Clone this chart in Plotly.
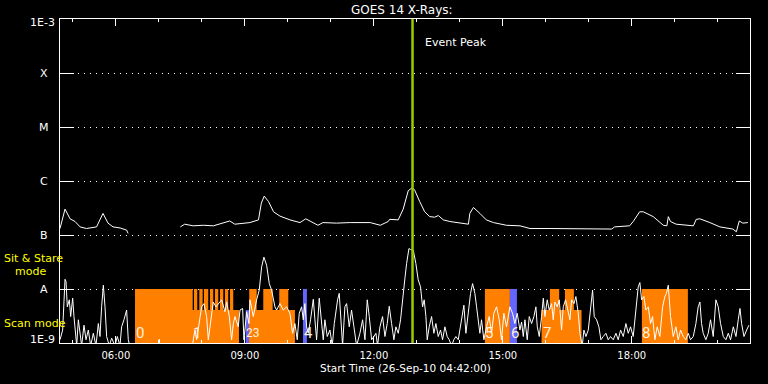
import numpy as np
import pandas as pd
import plotly.graph_objects as go

START = pd.Timestamp("2010-09-26 04:42:00")
END_MIN = 963  # minutes after start shown on the axis

# ---- GOES long channel (upper white curve): minutes after start, log10 flux (W/m^2)
long_min = [0, 7, 14, 21, 28, 37, 51, 60, 67, 74, 84, 93, 95, 130,
            168, 174, 186, 200, 214, 228, 237, 244, 260, 265, 277, 281, 285, 291, 298, 307,
            321, 335, 343, 349, 360, 367, 386, 405, 423, 433, 447, 458, 460, 472, 479, 486,
            492, 495, 502, 509, 516, 523, 528, 535, 544, 558, 570, 572, 577, 586, 595, 605,
            623, 642, 656, 684, 716, 735, 753, 770, 774, 795, 800, 809, 814, 828, 842, 847,
            849, 852, 860, 874, 884, 888, 893, 907, 921, 939, 944, 948, 953, 960]
long_logf = [-6.88, -6.52, -6.70, -6.75, -6.85, -6.88, -6.85, -6.60, -6.78, -6.85, -6.87, -6.91, -6.97, None,
             -6.85, -6.80, -6.83, -6.82, -6.83, -6.78, -6.74, -6.80, -6.78, -6.77, -6.72, -6.41, -6.28, -6.38, -6.57, -6.65,
             -6.72, -6.77, -6.70, -6.74, -6.82, -6.77, -6.78, -6.77, -6.77, -6.77, -6.82, -6.75, -6.71, -6.72, -6.52, -6.18,
             -6.12, -6.17, -6.38, -6.57, -6.66, -6.67, -6.64, -6.72, -6.75, -6.78, -6.80, -6.60, -6.49, -6.60, -6.72, -6.77,
             -6.82, -6.83, -6.88, -6.88, -6.88, -6.89, -6.88, -6.89, -6.85, -6.83, -6.75, -6.57, -6.57, -6.66, -6.82, -6.83,
             -6.66, -6.75, -6.80, -6.82, -6.83, -6.71, -6.70, -6.77, -6.85, -6.89, -6.94, -6.74, -6.78, -6.77]

# ---- lower white curve: minutes after start, log10 flux
short_min = [0, 3.7, 7.0, 8.4, 10.2, 13.0, 14.9, 17.7, 19.5, 20.9, 23.3, 25.6, 27.9, 30.2, 33.5, 36.3, 39.5,
             42.8, 46.5, 50.2, 53.5, 55.8, 58.1, 60.5, 62.8, 65.1, 68.8, 72.1, 76.7, 80.0, 83.7, 86.0, 89.3,
             93.0, 95.3, 100, 137.2, 138.6, 140, 183.7, 186, 188.4, 190.7, 195.3, 197.7, 200.9, 204.6, 207.0,
             211.6, 213.9, 217.7, 220.9, 225.6, 230.2, 232.6, 236.3, 239.5, 241.9, 244.2, 248.8, 251.2, 254.9,
             256.7, 260.5, 263.7, 265.1, 269.8, 274.4, 278.1, 281.4, 284.6, 288.4, 292.1, 295.3, 300.0, 302.3,
             307.0, 311.6, 316.3, 320.9, 324.6, 327.9, 331.1, 333.9, 337.2, 339.5, 341.8, 344.2, 346.5, 349.7,
             353.5, 355.8, 358.1, 361.8, 365.1, 367.4, 369.7, 373.0, 376.7, 380.0, 382.8, 385.1, 387.4, 389.7,
             391.6, 394.4, 397.6, 400.0, 403.7, 406.9, 410.2, 413.9, 418.6, 422.3, 425.6, 428.8, 431.6, 434.9,
             438.1, 440.9, 443.2, 446.5, 450.2, 453.5, 456.7, 459.5, 462.8, 466.0, 468.8, 472.1, 475.3, 479.0,
             481.4, 483.7, 487.0, 489.3, 493.0, 496.7, 499.9, 503.2, 506.0, 508.3, 510.7, 512.5, 515.3, 518.6,
             521.8, 524.6, 527.9, 531.1, 533.9, 537.2, 540.4, 543.2, 546.5, 549.7, 552.5, 555.8, 559.0, 561.8,
             563.7, 566.5, 569.7, 573.0, 575.8, 579.0, 581.4, 583.7, 586.0, 588.3, 591.6, 595.3, 599.0, 602.3,
             605.5, 609.3, 613.0, 616.2, 619.5, 623.2, 627.9, 631.6, 634.8, 638.1, 641.9, 644.2, 646.6, 648.9,
             652.1, 654.9, 658.2, 661.4, 664.2, 666.1, 668.9, 672.1, 674.5, 676.8, 680.0, 682.8, 686.1, 688.4,
             690.7, 694.0, 696.8, 700.0, 702.4, 705.6, 708.4, 711.7, 714.0, 717.4, 720.0, 723.3, 725.6, 728.9,
             731.2, 734.0, 737.3, 740.5, 743.3, 745.6, 748.9, 752.1, 754.9, 758.2, 761.9, 765.1, 768.4, 772.1,
             775.9, 779.1, 782.4, 786.1, 789.8, 793.1, 796.3, 800.0, 803.8, 807.0, 809.3, 811.7, 814.9, 817.7,
             821.0, 824.2, 827.0, 830.3, 833.5, 837.2, 841.0, 844.2, 846.5, 848.9, 852.1, 855.9, 859.6, 862.8,
             866.1, 869.8, 873.5, 876.8, 880.0, 883.8, 887.5, 890.7, 893.1, 895.4, 897.7, 901.4, 904.7, 907.9,
             911.7, 915.4, 918.7, 921.9, 925.7, 929.4, 932.7, 935.9, 939.7, 943.4, 946.6, 949.0, 951.3, 954.6,
             958.3, 961.5]
short_logf = [-8.94, -8.76, -7.82, -7.86, -8.33, -8.20, -8.51, -8.17, -8.51, -8.70, -9.05, -8.57, -8.88, -9.05, -8.67, -8.94, -8.76,
              -9.05, -8.82, -9.05, -8.64, -8.88, -8.33, -7.93, -8.33, -8.88, -9.05, -8.91, -9.05, -8.88, -9.05, -8.70, -8.57,
              -8.39, -8.94, -9.20, -9.20, -8.93, -9.20, -9.20, -8.94, -8.76, -8.94, -8.57, -8.33, -8.27, -8.51, -8.94,
              -8.42, -8.24, -8.33, -8.27, -8.20, -8.42, -8.24, -8.51, -8.94, -8.64, -8.51, -8.70, -8.39, -8.36,
              -8.94, -8.42, -8.64, -8.20, -8.51, -8.20, -8.02, -7.59, -7.41, -7.56, -7.90, -8.02, -8.33, -8.39,
              -8.27, -8.39, -8.33, -8.45, -8.82, -8.64, -8.94, -8.45, -8.33, -8.57, -8.27, -8.70, -8.82, -8.57,
              -8.19, -8.57, -8.94, -8.17, -8.70, -8.94, -8.57, -8.88, -8.76, -9.05, -8.64, -8.39, -8.20, -8.08,
              -8.45, -9.05, -8.33, -8.27, -8.70, -8.39, -8.70, -9.05, -8.82, -8.57, -8.94, -8.20, -8.51, -8.94,
              -8.88, -8.82, -9.05, -8.70, -8.51, -8.88, -8.64, -8.32, -8.64, -8.94, -8.70, -8.82, -8.57, -8.02,
              -7.80, -7.53, -7.25, -7.27, -7.28, -7.53, -7.83, -7.96, -8.33, -8.20, -8.51, -8.94, -8.70, -8.51,
              -8.82, -8.64, -8.88, -8.76, -8.94, -8.70, -8.88, -8.94, -9.05, -8.94, -8.88, -8.94, -8.70, -8.51,
              -8.30, -8.82, -8.45, -8.08, -7.90, -8.08, -8.33, -8.57, -8.82, -8.57, -8.94, -8.70, -8.51, -8.82,
              -8.45, -8.33, -8.57, -8.94, -8.45, -8.70, -8.33, -8.45, -8.64, -8.45, -8.76, -8.61, -8.88, -8.57,
              -8.94, -8.51, -8.64, -8.51, -8.33, -8.70, -8.88, -8.51, -8.17, -8.51, -8.20, -8.39, -8.27, -8.57,
              -8.24, -8.33, -8.20, -8.76, -8.33, -8.20, -8.39, -8.57, -8.20, -8.27, -8.14, -8.45, -8.82, -9.05,
              -8.76, -8.88, -8.76, -8.33, -8.02, -8.51, -8.57, -8.70, -8.94, -8.88, -8.82, -8.94, -8.88, -8.94,
              -8.82, -8.94, -8.76, -8.88, -8.64, -8.82, -8.70, -8.88, -8.33, -7.96, -7.88, -8.20, -8.14, -8.39,
              -8.33, -8.64, -8.51, -8.94, -8.70, -8.88, -8.33, -8.14, -8.08, -7.93, -8.51, -8.88, -8.70, -8.94,
              -8.76, -8.88, -8.94, -8.82, -8.94, -8.88, -8.64, -8.33, -8.24, -8.64, -8.82, -8.94, -8.82, -8.57,
              -8.88, -8.20, -8.33, -8.64, -8.88, -8.94, -8.82, -8.94, -8.70, -8.88, -8.57, -8.36, -8.64, -8.88,
              -8.76, -8.67]

# ---- observation-mode blocks: start / end minutes, mode, observation kind
mode_start = [104.7, 104.7, 187.0, 194.4, 200.9, 209.3, 216.3, 223.3, 230.2, 237.2,
              259.1, 264.1, 264.1, 283.7, 306.0, 339.1, 593.0, 627.9, 672.1, 683.7, 704.7, 812.1]
mode_end = [249.8, 185.2, 191.6, 199.1, 206.9, 213.9, 220.9, 227.9, 234.8, 241.8,
            264.1, 327.9, 274.5, 296.8, 318.6, 344.6, 627.9, 637.7, 727.9, 696.7, 717.2, 876.3]
mode_kind = ["scan", "stare", "stare", "stare", "stare", "stare", "stare", "stare", "stare", "stare",
             "scan", "scan", "stare", "stare", "stare", "stare", "stare", "stare", "scan", "stare", "stare", "stare"]
obs_kind = ["main"] * 10 + ["alt"] + ["main"] * 4 + ["alt", "main", "alt", "main", "main", "main", "main"]
mode_top_logf = {"stare": -8.0, "scan": -8.39}

# ---- observation numbers (2 and 3 are printed on top of each other)
obs_labels = ["0", "1", "23", "4", "5", "6", "7", "8"]
obs_label_min = [111.6, 190.5, 269.3, 347.4, 598.6, 634.9, 679.5, 818.1]

event_peak_min = 492

# ---- axis labels
x_tick_labels = ["06:00", "09:00", "12:00", "15:00", "18:00"]
x_tick_times = ["2010-09-26 06:00", "2010-09-26 09:00", "2010-09-26 12:00",
                "2010-09-26 15:00", "2010-09-26 18:00"]
y_class_labels = ["X", "M", "C", "B", "A"]
y_class_logf = [-4, -5, -6, -7, -8]


def t(m):
    return START + pd.to_timedelta(m, unit="m")


def flux(v):
    return np.nan if v is None else 10.0 ** v


FONT = "DejaVu Sans"
fig = go.Figure()

colors = {"main": "#ff8000", "alt": "#6464ff"}
shapes = []
for s, e, k, o in zip(mode_start, mode_end, mode_kind, obs_kind):
    shapes.append(dict(type="rect", xref="x", yref="y", x0=t(s), x1=t(e),
                       y0=1e-9, y1=10 ** mode_top_logf[k],
                       fillcolor=colors[o], line=dict(width=0), layer="between"))

shapes.append(dict(type="line", xref="x", yref="paper", x0=t(event_peak_min), x1=t(event_peak_min),
                   y0=0, y1=1, line=dict(color="#99cc00", width=2.5), layer="above"))

fig.add_trace(go.Scatter(x=[t(m) for m in short_min], y=[flux(v) for v in short_logf],
                         mode="lines", line=dict(color="white", width=1), hoverinfo="skip"))
fig.add_trace(go.Scatter(x=[t(m) for m in long_min], y=[flux(v) for v in long_logf],
                         mode="lines", line=dict(color="white", width=1), connectgaps=False,
                         hoverinfo="skip"))

ann = []
for lab, m in zip(obs_labels, obs_label_min):
    ann.append(dict(x=t(m), y=-8.806, xref="x", yref="y", text=lab, showarrow=False,
                    font=dict(family="Roboto", size=15 if len(lab) == 1 else 12, color="#fff0e0"),
                    xanchor="center", yanchor="middle"))
for lab, v in zip(y_class_labels, y_class_logf):
    ann.append(dict(x=-0.0232, y=v, xref="paper", yref="y", text=lab, showarrow=False,
                    font=dict(family=FONT, size=11, color="white"), xanchor="center", yanchor="middle"))
ann.append(dict(x=-0.0043, y=0.9877, xref="paper", yref="paper", text="1E-3", showarrow=False,
                font=dict(family=FONT, size=11, color="white"), xanchor="right", yanchor="middle"))
ann.append(dict(x=-0.0043, y=0.0123, xref="paper", yref="paper", text="1E-9", showarrow=False,
                font=dict(family=FONT, size=11, color="white"), xanchor="right", yanchor="middle"))
ann.append(dict(x=-0.0841, y=0.2623, xref="paper", yref="paper", text="Sit &amp; Stare", showarrow=False,
                font=dict(family=FONT, size=11, color="#ffff00"), xanchor="left", yanchor="middle"))
ann.append(dict(x=-0.0681, y=0.2222, xref="paper", yref="paper", text="mode", showarrow=False,
                font=dict(family=FONT, size=11, color="#ffff00"), xanchor="left", yanchor="middle"))
ann.append(dict(x=-0.0841, y=0.0617, xref="paper", yref="paper", text="Scan mode", showarrow=False,
                font=dict(family=FONT, size=11, color="#ffff00"), xanchor="left", yanchor="middle"))
ann.append(dict(x=0.4957, y=1.0293, xref="paper", yref="paper", text="GOES 14 X-Rays:", showarrow=False,
                font=dict(family=FONT, size=12, color="white"), xanchor="center", yanchor="middle"))
ann.append(dict(x=0.526, y=0.926, xref="paper", yref="paper", text="Event Peak", showarrow=False,
                font=dict(family=FONT, size=11, color="white"), xanchor="left", yanchor="middle"))
ann.append(dict(x=0.5, y=-0.0772, xref="paper", yref="paper",
                text="Start Time (26-Sep-10 04:42:00)", showarrow=False,
                font=dict(family=FONT, size=10.5, color="white"), xanchor="center", yanchor="middle"))

fig.update_layout(
    width=768, height=384,
    margin=dict(l=60, r=18, t=19, b=41),
    paper_bgcolor="black", plot_bgcolor="black",
    showlegend=False,
    shapes=shapes, annotations=ann,
    xaxis=dict(type="date", range=[t(0), t(END_MIN)],
               tickmode="array", tickvals=x_tick_times, ticktext=x_tick_labels,
               ticks="inside", ticklen=7, tickcolor="white", tickwidth=1,
               mirror="ticks", showline=True, linecolor="white", linewidth=1,
               showgrid=False, zeroline=False, ticklabelstandoff=3,
               tickfont=dict(family=FONT, size=10, color="white"),
               minor=dict(ticks="inside", ticklen=3, tickcolor="white",
                          dtick=3600000, tick0="2010-09-26 00:00", showgrid=False)),
    yaxis=dict(type="log", range=[-9, -3],
               tickmode="array", tickvals=[10.0 ** v for v in y_class_logf],
               showticklabels=False,
               ticks="inside", ticklen=14, tickcolor="white", tickwidth=1,
               mirror="ticks", showline=True, linecolor="white", linewidth=1,
               showgrid=True, gridcolor="white", gridwidth=1, griddash="1px,5px",
               zeroline=False),
)

fig.write_html("out.html")
